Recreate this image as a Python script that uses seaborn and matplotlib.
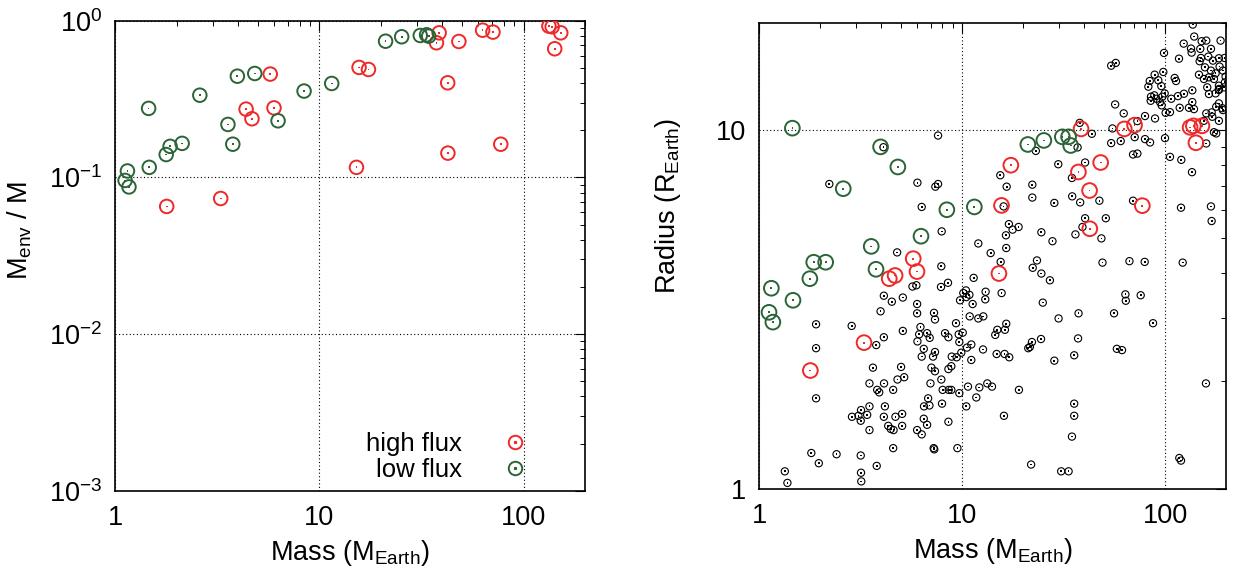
import numpy as np
import pandas as pd
import matplotlib
matplotlib.use("Agg")
import matplotlib.pyplot as plt
from matplotlib.ticker import FixedLocator, FixedFormatter, NullFormatter, LogLocator, LogFormatterSciNotation
from matplotlib.lines import Line2D
import seaborn as sns

# ---------------- data ----------------
# high-flux planets
hi_mass = [1.79, 3.29, 4.38, 4.68, 5.75, 6.0, 15.2, 15.65, 17.4, 37.45, 38.6,
           42.5, 42.6, 48.2, 63.0, 70.8, 77.3, 133.0, 138.0, 142.0, 152.0]
hi_menv = [0.0653, 0.0734, 0.273, 0.237, 0.457, 0.278, 0.116, 0.504, 0.489, 0.724, 0.838,
           0.402, 0.143, 0.738, 0.871, 0.847, 0.163, 0.925, 0.916, 0.663, 0.838]
hi_radius = [2.14, 2.56, 3.86, 3.94, 4.39, 4.04, 3.99, 6.18, 8.0, 7.66, 10.1,
             6.8, 5.32, 8.14, 10.1, 10.35, 6.17, 10.2, 10.3, 9.24, 10.3]

# low-flux planets
lo_mass = [1.12, 1.15, 1.17, 1.46, 1.47, 1.78, 1.86, 2.13, 2.6, 3.57, 3.77,
           3.97, 4.83, 6.28, 8.42, 11.5, 21.1, 25.3, 31.2, 33.5, 34.3]
lo_menv = [0.0957, 0.110, 0.087, 0.276, 0.116, 0.140, 0.158, 0.165, 0.335, 0.218, 0.163,
           0.443, 0.461, 0.230, 0.356, 0.398, 0.741, 0.791, 0.806, 0.814, 0.798]
lo_radius = [3.11, 3.63, 2.92, 10.15, 3.36, 3.86, 4.29, 4.29, 6.88, 4.75, 4.10,
             9.0, 7.91, 5.07, 6.01, 6.12, 9.14, 9.38, 9.6, 9.6, 9.08]

# all known planets (mass, radius)
all_mass = [
    137, 139.3, 123.6, 134.3, 135.2, 98.9, 117.2, 54.3, 57.2, 98.1, 88.9, 84.1, 92.7,
    82.8, 95.9, 111.6, 113.3, 85.3, 88.6, 90.6, 94.5, 96.3, 99.6, 107.4, 115.8, 124.0,
    136.3, 118.1, 131.2, 136.3, 100.7, 105.8, 56.8, 62.6, 79.7, 89.3, 73.1, 38.0, 55.1,
    43.6, 70.9, 60.5, 54.3, 79.7, 84.4, 100, 7.62, 4.10, 23.1, 37.1, 69.6, 73.1, 105.8,
    120.3, 135.8, 29.8, 40.4, 34.8, 15.44, 16.59, 2.22, 6.03, 7.39, 7.62, 22.2, 34.9,
    38.2, 47.5, 22.2, 28.5, 69.6, 119.9, 168.4, 169.7, 6.33, 16.03, 17.02, 17.75, 19.0,
    16.46, 7.94, 51.1, 40.4, 39.2, 24.6, 27.9, 36.2, 48.6, 12.03, 16.52,
    151.5, 159.7, 187.8, 149.2, 168.4, 150.3, 148.1, 163.4, 172.2, 184.3, 196.5, 157.3,
    168.4, 147.0, 177.5, 185.7, 192.8, 198.8, 155.5, 164.6, 174.2, 184.3, 197.3, 161.5,
    184.3, 195.1, 97.0, 85.0, 138.9, 164.6, 177.5, 184.3, 184.3, 178.8, 191.4, 169.7,
    159.7, 171.0, 184.3, 192.8, 155.5, 178.8, 174.2, 159.7,
    13.84, 4.79, 7.91, 15.50, 22.3, 23.4, 24.6, 27.1, 49.2, 66.8, 79.4, 122.2, 11.41,
    5.70, 5.96, 7.88, 8.53, 10.46, 10.15, 9.78, 10.50, 10.87, 11.28, 13.02, 13.07, 15.67,
    25.0, 63.8, 64.1, 75.9, 4.12, 4.51, 5.11, 6.01, 6.01, 3.97, 7.28, 7.36, 10.91, 12.03,
    12.73, 9.34, 16.52, 14.92, 16.27, 29.9, 37.5, 56.1, 87.3, 1.91, 2.86, 5.11, 6.24,
    6.15, 6.73, 6.93, 8.25, 8.57, 9.63, 10.08, 9.70, 6.03, 4.12, 3.78, 14.58, 24.5, 22.1,
    21.6, 21.2, 37.3, 57.9, 61.4, 1.91, 6.48, 6.33, 7.20, 7.36, 8.90, 9.41, 9.92, 10.58,
    11.11, 12.69, 11.11, 14.81, 16.21, 17.09, 28.5, 35.7, 3.64, 5.01, 4.81, 5.19, 7.07,
    7.36, 8.57, 8.86, 7.91, 3.50, 4.13, 6.99, 4.58, 3.82, 3.91, 8.03, 8.60, 8.86, 9.70,
    10.70, 12.17, 13.32, 14.05, 19.07, 11.76, 6.81, 6.50, 6.91, 7.97, 10.50, 1.91, 35.7,
    35.7, 34.8, 16.09, 159.1, 3.18, 3.09, 2.87, 3.41, 3.50, 3.17, 4.17, 4.12, 5.07, 5.07,
    4.70, 4.33, 4.46, 4.60, 6.48, 6.73, 6.01, 6.33, 3.50, 8.57, 4.58, 7.25, 7.30, 9.49,
    1.81, 1.97, 2.41, 3.17, 3.80, 3.18, 3.19, 1.34, 1.38, 21.9, 30.8, 33.5, 117.6, 119.9,
]
all_radius = [
    19.74, 18.28, 17.47, 16.92, 16.49, 16.45, 15.86, 15.16, 15.43, 14.56, 14.31, 13.74, 13.80,
    13.25, 13.30, 14.01, 13.74, 12.42, 12.53, 12.26, 12.00, 11.75, 12.69, 12.26, 12.47, 12.66,
    12.94, 11.57, 11.57, 12.00, 11.20, 11.25, 11.82, 11.16, 10.97, 10.80, 10.62, 10.50, 10.13,
    9.79, 9.58, 9.34, 9.22, 9.46, 9.26, 9.52, 9.68, 8.98, 8.77, 8.97, 8.57, 8.62, 8.44,
    8.28, 7.65, 8.05, 8.14, 7.37, 7.50, 6.97, 7.09, 7.15, 6.97, 7.09, 7.06, 6.55,
    6.30, 6.37, 6.50, 6.28, 6.37, 6.09, 6.14, 5.59, 6.12, 6.14, 5.48, 5.29, 5.38,
    5.10, 5.23, 5.69, 5.69, 5.38, 5.20, 4.91, 5.13, 5.00, 4.84, 4.70,
    17.74, 17.81, 17.81, 16.89, 16.89, 15.93, 15.60, 16.07, 15.66, 15.90, 15.93, 15.00,
    14.69, 14.31, 14.43, 15.07, 14.69, 14.13, 13.92, 14.07, 13.92, 13.33, 13.62, 13.19,
    13.05, 13.19, 12.42, 12.10, 11.47, 12.64, 12.69, 12.97, 11.90, 11.65, 11.54, 11.23,
    11.16, 10.92, 10.64, 11.40, 10.64, 9.81, 9.89, 9.20,
    4.55, 4.57, 4.18, 4.30, 4.14, 4.34, 3.99, 3.82, 4.28, 4.32, 4.30, 4.28, 3.88,
    3.67, 3.70, 3.66, 3.76, 3.58, 3.52, 3.36, 3.43, 3.48, 3.28, 3.38, 3.55, 3.52,
    3.31, 3.49, 3.35, 3.47, 3.46, 3.33, 3.42, 3.28, 3.09, 3.13, 3.10, 2.97, 3.03, 2.99,
    3.03, 2.90, 2.89, 2.78, 2.78, 2.99, 3.09, 3.09, 2.90, 2.88, 2.85, 2.76, 2.83,
    2.70, 2.72, 2.64, 2.72, 2.65, 2.70, 2.73, 2.57, 2.58, 2.65, 2.52, 2.69, 2.62, 2.57,
    2.49, 2.47, 2.63, 2.46, 2.44, 2.47, 2.46, 2.34, 2.34, 2.41, 2.34, 2.33, 2.40, 2.48,
    2.53, 2.45, 2.29, 2.38, 2.38, 2.33, 2.28, 2.36, 2.18, 2.19, 2.02, 2.05, 2.18,
    2.13, 2.16, 2.20, 2.02, 1.97, 1.97, 1.97, 1.89, 1.89, 1.86, 1.89, 1.89, 1.89, 1.85,
    1.93, 1.92, 1.97, 1.93, 1.89, 1.80, 1.79, 1.70, 1.71, 1.73, 1.70, 1.79, 1.73,
    1.60, 1.40, 1.60, 1.97, 1.66, 1.60, 1.59, 1.61, 1.70, 1.55, 1.70, 1.59, 1.62, 1.50,
    1.59, 1.50, 1.47, 1.46, 1.57, 1.51, 1.46, 1.42, 1.46, 1.54, 1.30, 1.30, 1.29, 1.30,
    1.26, 1.18, 1.25, 1.24, 1.16, 1.11, 1.05, 1.12, 1.04, 1.17, 1.12, 1.12, 1.22, 1.20,
]

x_ticks = [1, 10, 100]
x_ticklabels = ["1", "10", "100"]
r_ticks = [1, 10]
r_ticklabels = ["1", "10"]
series_labels = ["high flux", "low flux"]

# ---------------- style ----------------
RED = "#f02828"
GREEN = "#2b6436"
FS = 19.5

sns.set_style("white")
plt.rcParams["font.family"] = ["Liberation Sans", "DejaVu Sans"]
plt.rcParams["mathtext.fontset"] = "custom"
plt.rcParams["mathtext.rm"] = "Liberation Sans"
plt.rcParams["mathtext.it"] = "Liberation Sans:italic"
plt.rcParams["mathtext.bf"] = "Liberation Sans:bold"
plt.rcParams["mathtext.default"] = "regular"
plt.rcParams["axes.unicode_minus"] = True
for key in ["text.color", "axes.labelcolor", "xtick.color", "ytick.color",
            "xtick.labelcolor", "ytick.labelcolor", "axes.edgecolor"]:
    plt.rcParams[key] = "black"

fig = plt.figure(figsize=(12.37, 5.78), dpi=100)
axL = fig.add_axes([0.093, 0.151, 0.380, 0.813])
axR = fig.add_axes([0.6136, 0.154, 0.3776, 0.807])

hi_df = pd.DataFrame({"mass": hi_mass, "menv": hi_menv, "radius": hi_radius})
lo_df = pd.DataFrame({"mass": lo_mass, "menv": lo_menv, "radius": lo_radius})
all_df = pd.DataFrame({"mass": all_mass, "radius": all_radius})


def ring(ax, df, x, y, color, s, lw):
    sns.scatterplot(data=df, x=x, y=y, ax=ax, marker="o", s=s,
                    facecolor="none", edgecolor=color, linewidth=lw, legend=False, zorder=3)
    sns.scatterplot(data=df, x=x, y=y, ax=ax, marker="s", s=1.6,
                    facecolor=color, edgecolor="none", linewidth=0, legend=False, zorder=3)


# ---- left panel ----
ring(axL, hi_df, "mass", "menv", RED, 95, 1.4)
ring(axL, lo_df, "mass", "menv", GREEN, 95, 1.4)

# ---- right panel ----
ring(axR, all_df, "mass", "radius", "black", 27, 0.8)
ring(axR, hi_df, "mass", "radius", RED, 112, 1.4)
ring(axR, lo_df, "mass", "radius", GREEN, 112, 1.4)

for ax in (axL, axR):
    ax.set_xscale("log")
    ax.set_yscale("log")
    ax.set_xlim(1, 200)
    ax.xaxis.set_major_locator(FixedLocator(x_ticks))
    ax.xaxis.set_major_formatter(FixedFormatter(x_ticklabels))
    ax.xaxis.set_minor_locator(LogLocator(base=10, subs=np.arange(2, 10)))
    ax.xaxis.set_minor_formatter(NullFormatter())
    ax.yaxis.set_minor_locator(LogLocator(base=10, subs=np.arange(2, 10)))
    ax.yaxis.set_minor_formatter(NullFormatter())
    ax.tick_params(which="both", direction="in", top=True, right=True,
                   labelsize=FS, color="black", labelcolor="black")
    ax.tick_params(which="major", length=7, width=0.8, pad=10)
    ax.tick_params(which="minor", length=3.5, width=0.7)
    ax.tick_params(axis="y", which="major", pad=9)
    ax.grid(True, which="major", linestyle=(0, (1, 2.2)), color="black", linewidth=0.8)
    ax.set_axisbelow(True)
    for sp in ax.spines.values():
        sp.set_color("black")
        sp.set_linewidth(1.2)
    ax.set_xlabel("Mass (M$_{\\rm Earth}$)", fontsize=FS)
    ax.xaxis.set_label_coords(0.5, -0.1)

axL.set_ylim(1e-3, 1)
axL.yaxis.set_major_locator(FixedLocator([1e-3, 1e-2, 1e-1, 1]))
axL.yaxis.set_major_formatter(LogFormatterSciNotation())
axL.set_ylabel("M$_{\\rm env}$ / M", fontsize=FS)
axL.yaxis.set_label_coords(-0.172, 0.555)

axR.set_ylim(1, 20)
axR.yaxis.set_major_locator(FixedLocator(r_ticks))
axR.yaxis.set_major_formatter(FixedFormatter(r_ticklabels))
axR.set_ylabel("Radius (R$_{\\rm Earth}$)", fontsize=FS)
axR.yaxis.set_label_coords(-0.162, 0.607)

# legend (gnuplot style: text then symbol)
h_hi = (Line2D([], [], linestyle="none", marker="o", markersize=9.7, markerfacecolor="none",
               markeredgecolor=RED, markeredgewidth=1.4),
        Line2D([], [], linestyle="none", marker="s", markersize=1.3, color=RED))
h_lo = (Line2D([], [], linestyle="none", marker="o", markersize=9.7, markerfacecolor="none",
               markeredgecolor=GREEN, markeredgewidth=1.4),
        Line2D([], [], linestyle="none", marker="s", markersize=1.3, color=GREEN))
axL.legend([h_hi, h_lo], series_labels, loc="lower right", bbox_to_anchor=(0.941, -0.03),
           markerfirst=False, frameon=False, fontsize=18.5, handlelength=1.5,
           handletextpad=1.3, labelspacing=0.05, borderpad=0.4)

fig.savefig("out.png", dpi=100)
